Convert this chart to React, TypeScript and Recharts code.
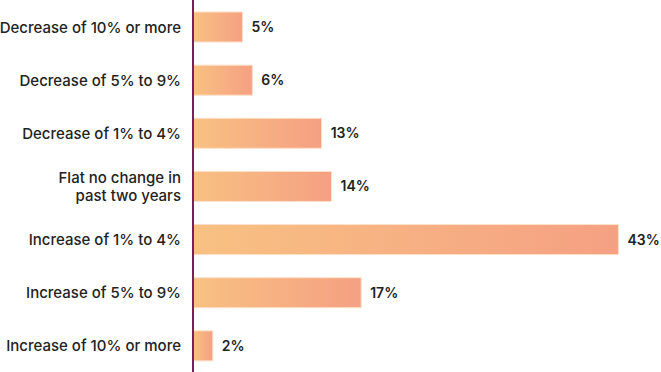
import { BarChart, Bar, XAxis, YAxis, LabelList } from 'recharts';

const categories = [
  'Decrease of 10% or more',
  'Decrease of 5% to 9%',
  'Decrease of 1% to 4%',
  'Flat no change in\npast two years',
  'Increase of 1% to 4%',
  'Increase of 5% to 9%',
  'Increase of 10% or more',
];
const shares = [5, 6, 13, 14, 43, 17, 2];

const data = categories.map((name, i) => ({ name, value: shares[i] }));

const FONT = 'Inter, "Noto Sans", sans-serif';
const TEXT = '#222222';

const CategoryTick = ({ x, y, payload }: any) => {
  const lines = String(payload.value).split('\n');
  const lh = 18;
  const start = -((lines.length - 1) * lh) / 2;
  return (
    <text
      x={x}
      y={y}
      textAnchor="end"
      fill={TEXT}
      fontSize={15}
      fontWeight={500}
      fontFamily={FONT}
      dominantBaseline="central"
    >
      {lines.map((l, i) => (
        <tspan key={i} x={x} dy={i === 0 ? start : lh}>
          {l}
        </tspan>
      ))}
    </text>
  );
};

export default function App() {
  return (
    <div style={{ position: 'absolute', left: 0, top: 0, background: '#fff' }}>
      <BarChart
        width={661}
        height={372}
        data={data}
        layout="vertical"
        margin={{ top: 0, right: 0, bottom: 0, left: 0 }}
        barCategoryGap={0}
      >
        <defs>
          <linearGradient id="barFill" x1="0" y1="0" x2="1" y2="0">
            <stop offset="0%" stopColor="#F8C182" />
            <stop offset="100%" stopColor="#F5A083" />
          </linearGradient>
        </defs>
        <XAxis type="number" domain={[0, 47.3]} hide />
        <YAxis
          type="category"
          dataKey="name"
          width={193}
          tickLine={false}
          axisLine={{ stroke: '#7B1E5B', strokeWidth: 2 }}
          tick={<CategoryTick />}
          tickMargin={6}
          interval={0}
        />
        <Bar
          dataKey="value"
          barSize={30}
          fill="url(#barFill)"
          stroke="#FCE0C8"
          strokeWidth={1}
          isAnimationActive={false}
        >
          <LabelList
            dataKey="value"
            position="right"
            offset={9}
            formatter={(v: any) => `${v}%`}
            fill={TEXT}
            fontSize={14}
            fontWeight={600}
            fontFamily={FONT}
          />
        </Bar>
      </BarChart>
    </div>
  );
}
